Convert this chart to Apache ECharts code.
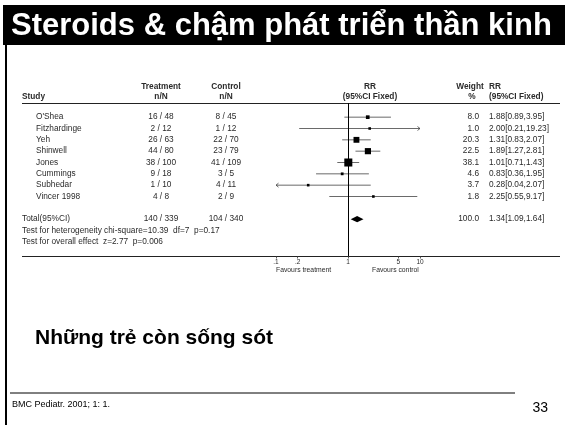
<!DOCTYPE html>
<html>
<head>
<meta charset="utf-8">
<script src="https://cdn.jsdelivr.net/npm/echarts@6/dist/echarts.min.js"></script>
<style>
  html, body { margin: 0; padding: 0; background: #fff; }
  #chart { width: 565px; height: 425px; }
</style>
</head>
<body>
<div id="chart"></div>
<script>
// Trials in the meta-analysis (relative risk, fixed effect)
const studies = ["O'Shea", "Fitzhardinge", "Yeh", "Shinwell", "Jones", "Cummings", "Subhedar", "Vincer 1998"];
const treatEvents = [16, 2, 26, 44, 38, 9, 1, 4];
const treatTotals = [48, 12, 63, 80, 100, 18, 10, 8];
const ctrlEvents = [8, 1, 22, 23, 41, 3, 4, 2];
const ctrlTotals = [45, 12, 70, 79, 109, 5, 11, 9];
const rrValues = [1.88, 2.00, 1.31, 1.89, 1.01, 0.83, 0.28, 2.25];
const rrLower = [0.89, 0.21, 0.83, 1.27, 0.71, 0.36, 0.04, 0.55];
const rrUpper = [3.95, 19.23, 2.07, 2.81, 1.43, 1.95, 2.07, 9.17];
const weights = [8.0, 1.0, 20.3, 22.5, 38.1, 4.6, 3.7, 1.8];

// Pooled estimate
const totalLabel = "Total(95%CI)";
const totalTreat = [140, 339];
const totalCtrl = [104, 340];
const totalWeight = 100.0;
const totalRR = [1.34, 1.09, 1.64];
const heterogeneityText = "Test for heterogeneity chi-square=10.39  df=7  p=0.17";
const overallText = "Test for overall effect  z=2.77  p=0.006";

// Log axis ticks
const tickValues = [0.1, 0.2, 1, 5, 10];
const tickLabels = [".1", ".2", "1", "5", "10"];

const FONT = "'Liberation Sans', Arial, sans-serif";
const TXT = '#2a2a2a';
const FS = 8.3;
const AX_MIN = 0.1, AX_MAX = 10;
const TOTAL_ROW = studies.length + 1;

const fmt = (v) => v.toFixed(2);

// Table rows (text columns), one per line
const tableRows = studies.map((s, i) => ({
  row: i, name: s, nameX: 36,
  treat: treatEvents[i] + ' / ' + treatTotals[i],
  ctrl: ctrlEvents[i] + ' / ' + ctrlTotals[i],
  weight: weights[i].toFixed(1),
  rr: fmt(rrValues[i]) + '[' + fmt(rrLower[i]) + ',' + fmt(rrUpper[i]) + ']'
}));
tableRows.push({
  row: TOTAL_ROW, name: totalLabel, nameX: 22,
  treat: totalTreat[0] + ' / ' + totalTreat[1],
  ctrl: totalCtrl[0] + ' / ' + totalCtrl[1],
  weight: totalWeight.toFixed(1),
  rr: fmt(totalRR[0]) + '[' + fmt(totalRR[1]) + ',' + fmt(totalRR[2]) + ']'
});
tableRows.push({ row: TOTAL_ROW + 1, name: heterogeneityText, nameX: 22 });
tableRows.push({ row: TOTAL_ROW + 2, name: overallText, nameX: 22 });

const forestData = studies.map((s, i) => [rrValues[i], i, rrLower[i], rrUpper[i], weights[i]]);

const chart = echarts.init(document.getElementById('chart'), null, { renderer: 'canvas' });

function txt(x, y, text, align, bold, size) {
  return {
    type: 'text', x: x, y: y,
    style: { text: text, fill: TXT, font: (bold ? 'bold ' : '') + (size || FS) + 'px ' + FONT, align: align || 'left', verticalAlign: 'middle' }
  };
}

const option = {
  backgroundColor: '#ffffff',
  animation: false,
  grid: { left: 276, width: 144, top: 103, height: 153 },
  xAxis: {
    type: 'log', logBase: 10, min: AX_MIN, max: AX_MAX,
    axisLine: { show: false, onZero: false },
    splitLine: { show: false },
    minorTick: { show: false },
    axisTick: { show: true, length: 2.5, customValues: tickValues, lineStyle: { color: '#333', width: 0.8 } },
    axisLabel: {
      customValues: tickValues, margin: 3,
      formatter: (v) => tickLabels[tickValues.findIndex(t => Math.abs(t - v) < 1e-9)] || '',
      fontSize: 6.5, fontFamily: FONT, color: TXT
    }
  },
  yAxis: {
    type: 'value', inverse: true, min: -1.25, max: 12.25,
    show: false
  },
  series: [
    {
      // Confidence intervals and point estimates
      type: 'custom',
      clip: false,
      data: forestData,
      encode: { x: [0, 2, 3], y: 1 },
      renderItem: function (params, api) {
        const rr = api.value(0), row = api.value(1), lo = api.value(2), hi = api.value(3), w = api.value(4);
        const y = api.coord([1, row])[1];
        const xLo = api.coord([Math.max(lo, AX_MIN), row])[0];
        const xHi = api.coord([Math.min(hi, AX_MAX), row])[0];
        const xc = api.coord([rr, row])[0];
        const sz = Math.max(2.6, 1.3 * Math.sqrt(w));
        const lineStyle = { stroke: '#444', lineWidth: 0.8 };
        const children = [
          { type: 'line', shape: { x1: xLo, y1: y, x2: xHi, y2: y }, style: lineStyle },
          { type: 'rect', shape: { x: xc - sz / 2, y: y - sz / 2, width: sz, height: sz }, style: { fill: '#000' } }
        ];
        if (hi > AX_MAX) {
          children.push({ type: 'polyline', shape: { points: [[xHi - 2.5, y - 2], [xHi, y], [xHi - 2.5, y + 2]] }, style: { stroke: '#444', lineWidth: 0.8, fill: null } });
        }
        if (lo < AX_MIN) {
          children.push({ type: 'polyline', shape: { points: [[xLo + 2.5, y - 2], [xLo, y], [xLo + 2.5, y + 2]] }, style: { stroke: '#444', lineWidth: 0.8, fill: null } });
        }
        return { type: 'group', children: children };
      },
      markLine: {
        silent: true, symbol: 'none', label: { show: false },
        lineStyle: { color: '#000', width: 1, type: 'solid' },
        data: [{ xAxis: 1 }]
      }
    },
    {
      // Pooled diamond
      type: 'custom',
      clip: false,
      data: [[totalRR[0], TOTAL_ROW, totalRR[1], totalRR[2]]],
      encode: { x: [0, 2, 3], y: 1 },
      renderItem: function (params, api) {
        const row = api.value(1);
        const c = api.coord([api.value(0), row]);
        const xl = api.coord([api.value(2), row])[0];
        const xr = api.coord([api.value(3), row])[0];
        const h = 3.2;
        return {
          type: 'polygon',
          shape: { points: [[xl, c[1]], [c[0], c[1] - h], [xr, c[1]], [c[0], c[1] + h]] },
          style: { fill: '#000' }
        };
      }
    },
    {
      // Text columns of the table
      type: 'custom',
      clip: false,
      data: tableRows.map(r => [1, r.row]),
      encode: { x: 0, y: 1 },
      renderItem: function (params, api) {
        const r = tableRows[params.dataIndex];
        const y = api.coord([1, api.value(1)])[1];
        const kids = [txt(r.nameX, y, r.name, 'left')];
        if (r.treat) kids.push(txt(161, y, r.treat, 'center'));
        if (r.ctrl) kids.push(txt(226, y, r.ctrl, 'center'));
        if (r.weight) kids.push(txt(479, y, r.weight, 'right'));
        if (r.rr) kids.push(txt(489, y, r.rr, 'left'));
        return { type: 'group', children: kids };
      }
    }
  ],
  graphic: [
    // Title bar
    { type: 'rect', shape: { x: 3, y: 5, width: 562, height: 40 }, style: { fill: '#000' } },
    { type: 'text', x: 11, y: 26, style: { text: 'Steroids & chậm phát triển thần kinh', fill: '#fff', font: 'bold 31px ' + FONT, verticalAlign: 'middle' } },
    // Slide left border
    { type: 'rect', shape: { x: 5, y: 45, width: 2, height: 380 }, style: { fill: '#000' } },
    // Table header
    txt(22, 97, 'Study', 'left', true),
    txt(161, 87, 'Treatment', 'center', true),
    txt(161, 97, 'n/N', 'center', true),
    txt(226, 87, 'Control', 'center', true),
    txt(226, 97, 'n/N', 'center', true),
    txt(370, 87, 'RR', 'center', true),
    txt(370, 97, '(95%CI Fixed)', 'center', true),
    txt(470, 87, 'Weight', 'center', true),
    txt(472, 97, '%', 'center', true),
    txt(489, 87, 'RR', 'left', true),
    txt(489, 97, '(95%CI Fixed)', 'left', true),
    { type: 'line', shape: { x1: 22, y1: 103.5, x2: 560, y2: 103.5 }, style: { stroke: '#222', lineWidth: 1 } },
    // Scale rule
    { type: 'line', shape: { x1: 22, y1: 256.5, x2: 560, y2: 256.5 }, style: { stroke: '#222', lineWidth: 1 } },
    txt(276, 270, 'Favours treatment', 'left', false, 6.8),
    txt(372, 270, 'Favours control', 'left', false, 6.8),
    // Subtitle and footer
    { type: 'text', x: 35, y: 338, style: { text: 'Những trẻ còn sống sót', fill: '#000', font: 'bold 21px ' + FONT, verticalAlign: 'middle' } },
    { type: 'line', shape: { x1: 10, y1: 393, x2: 515, y2: 393 }, style: { stroke: '#000', lineWidth: 1 } },
    { type: 'text', x: 12, y: 405, style: { text: 'BMC Pediatr. 2001; 1: 1.', fill: '#000', font: '9px ' + FONT, verticalAlign: 'middle' } },
    { type: 'text', x: 548, y: 408, style: { text: '33', fill: '#000', font: '14px ' + FONT, align: 'right', verticalAlign: 'middle' } }
  ]
};

chart.setOption(option);
</script>
</body>
</html>
